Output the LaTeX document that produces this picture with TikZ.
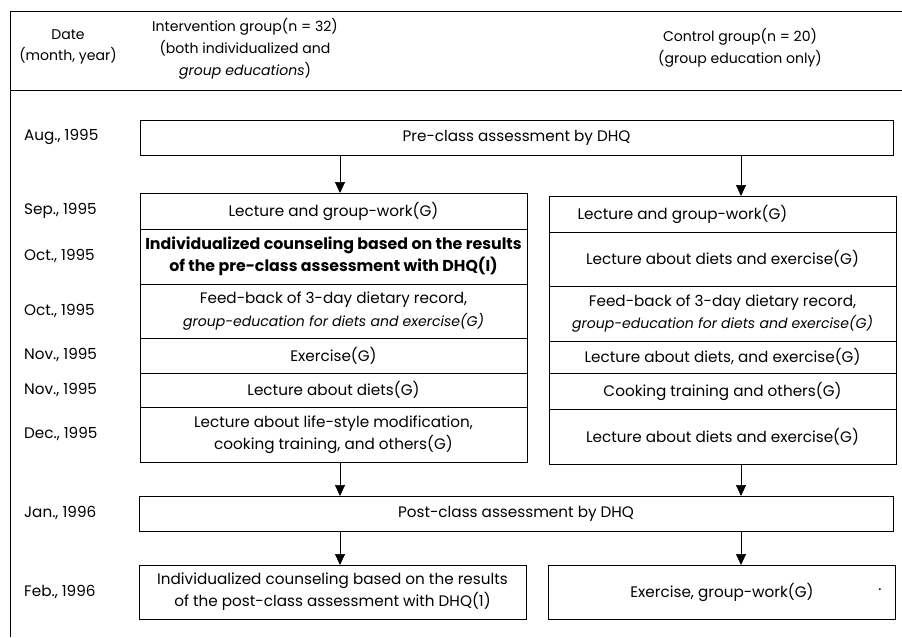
\documentclass[tikz,border=0pt]{standalone}
\usepackage{fontspec}
\setmainfont{Poppins}
\usetikzlibrary{positioning, arrows.meta}

\newcommand{\pxu}{0.03cm}
\newcommand{\txt}{\fontsize{13}{19}\selectfont}
\newcommand{\itxt}{\fontsize{12}{19}\selectfont\itshape}
\newcommand{\htxt}{\fontsize{12}{18.5}\selectfont}

\begin{document}
\begin{tikzpicture}[x=0.03cm, y=-0.03cm,
    cell/.style={draw, line width=0.6pt, outer sep=0pt, inner sep=0pt,
                 align=center, font=\txt},
    lcell/.style={cell, minimum width=387*\pxu},
    rcell/.style={cell, minimum width=347*\pxu},
    datelbl/.style={anchor=west, font=\txt},
    headlbl/.style={align=center, font=\htxt},
    arr/.style={-{Triangle[length=0.33cm, width=0.3cm]}, line width=0.6pt}]
  \useasboundingbox (0,0) rectangle (902,637);

  % table frame and header
  \draw[line width=0.6pt] (10,637) -- (10,11) -- (902,11);
  \draw[line width=0.6pt] (10,90) -- (902,90);
  \node[headlbl] (hdate) at (68,47) {Date\\(month, year)};
  \node[headlbl] (hint) at (245,49)
       {Intervention group(n = 32)\\(both individualized and\\\textit{group educations})};
  \node[headlbl] (hcon) at (740,48)
       {Control group(n = 20)\\(group education only)};

  % dates
  \foreach \d/\y [count=\i] in {{Aug., 1995}/137, {Sep., 1995}/211,
      {Oct., 1995}/256, {Oct., 1995}/311, {Nov., 1995}/355,
      {Nov., 1995}/390, {Dec., 1995}/434, {Jan., 1996}/513,
      {Feb., 1996}/592}
    \node[datelbl] (d\i) at (20,\y) {\d};

  % assessment before classes
  \node[cell, minimum width=753*\pxu, minimum height=35*\pxu] (pre)
       at (516.5,138) {Pre-class assessment by DHQ};

  % intervention group
  \node[lcell, minimum height=36*\pxu] (L1) at (333.5,211)
       {Lecture and group-work(G)};
  \node[lcell, minimum height=55*\pxu, font=\fontsize{13.5}{19}\selectfont\bfseries,
        below=0pt of L1] (L2)
       {Individualized counseling based on the results\\of the pre-class assessment with DHQ(I)};
  \node[lcell, minimum height=54*\pxu, below=0pt of L2] (L3)
       {Feed-back of 3-day dietary record,\\{\itxt group-education for diets and exercise(G)}};
  \node[lcell, minimum height=35*\pxu, below=0pt of L3] (L4) {Exercise(G)};
  \node[lcell, minimum height=34*\pxu, below=0pt of L4] (L5) {Lecture about diets(G)};
  \node[lcell, minimum height=55*\pxu, below=0pt of L5] (L6)
       {Lecture about life-style modification,\\cooking training, and others(G)};

  % control group
  \node[rcell, minimum height=36*\pxu] (R1) at (722.5,214)
       {Lecture and group-work(G)\hspace*{2.4cm}};
  \node[rcell, minimum height=54*\pxu, below=0pt of R1] (R2)
       {Lecture about diets and exercise(G)};
  \node[rcell, minimum height=55*\pxu, below=0pt of R2] (R3)
       {Feed-back of 3-day dietary record,\\{\itxt group-education for diets and exercise(G)}};
  \node[rcell, minimum height=32*\pxu, below=0pt of R3] (R4)
       {Lecture about diets, and exercise(G)};
  \node[rcell, minimum height=36*\pxu, below=0pt of R4] (R5)
       {Cooking training and others(G)};
  \node[rcell, minimum height=55*\pxu, below=0pt of R5] (R6)
       {Lecture about diets and exercise(G)};

  % assessment after classes
  \node[cell, minimum width=754*\pxu, minimum height=35*\pxu] (post)
       at (516,513.5) {Post-class assessment by DHQ};
  \node[lcell, minimum height=54*\pxu] (B1) at (332.5,592)
       {Individualized counseling based on the results\\of the post-class assessment with DHQ(1)};
  \node[rcell, minimum height=54*\pxu] (B2) at (722,592)
       {Exercise, group-work(G)};
  \node[font=\txt] (dot) at (880,590) {.};

  % arrows
  \draw[arr] (pre.south -| 340,0) -- (L1.north -| 340,0);
  \draw[arr] (pre.south -| 741,0) -- (R1.north -| 741,0);
  \draw[arr] (L6.south -| 340,0) -- (post.north -| 340,0);
  \draw[arr] (R6.south -| 741,0) -- (post.north -| 741,0);
  \draw[arr] (post.south -| 340,0) -- (B1.north -| 340,0);
  \draw[arr] (post.south -| 741,0) -- (B2.north -| 741,0);
\end{tikzpicture}
\end{document}
